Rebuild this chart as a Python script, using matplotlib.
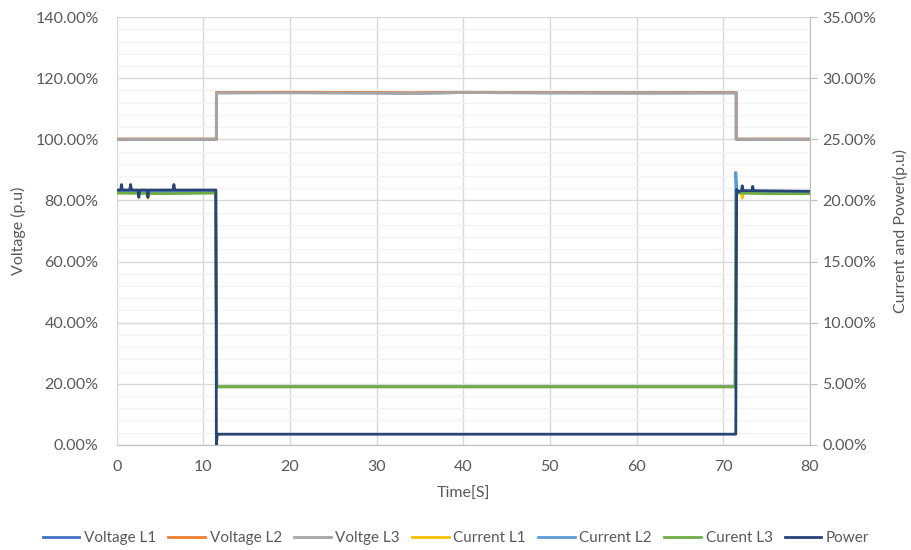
import matplotlib
matplotlib.use("Agg")
import matplotlib.pyplot as plt
from matplotlib.ticker import FuncFormatter, MultipleLocator

# ---- data (left axis: voltage in %, right axis: current/power in %) ----
t_volt = [0, 11.5, 11.5, 20, 30, 34, 40, 50, 60, 71.5, 71.5, 80]
volt_l1 = [100.0, 100.0, 115.2, 115.3, 115.2, 115.1, 115.3, 115.2, 115.2, 115.2, 100.0, 100.0]
volt_l2 = [100.1, 100.1, 115.3, 115.4, 115.3, 115.2, 115.4, 115.3, 115.2, 115.3, 100.1, 100.1]
volt_l3 = [100.0, 100.0, 115.2, 115.2, 115.1, 115.0, 115.3, 115.2, 115.1, 115.2, 100.0, 100.0]

t_cur = [0, 3.5, 3.6, 3.7, 11.4, 11.55, 20, 40, 60, 71.4, 71.55, 72.1, 72.2, 72.3, 80]
cur_l1 = [20.7, 20.7, 20.2, 20.7, 20.7, 4.76, 4.76, 4.76, 4.76, 4.76, 20.8, 20.7, 20.2, 20.7, 20.7]
t_cur2 = [0, 11.4, 11.55, 20, 40, 60, 71.4, 71.45, 71.55, 71.7, 80]
cur_l2 = [20.7, 20.7, 4.76, 4.76, 4.76, 4.76, 4.76, 22.3, 21.0, 20.7, 20.7]
t_cur3 = [0, 5, 11.4, 11.55, 20, 40, 60, 71.35, 71.5, 75, 80]
cur_l3 = [20.6, 20.55, 20.6, 4.76, 4.76, 4.76, 4.76, 4.76, 20.6, 20.55, 20.55]

t_pow = [0, 0.45, 0.55, 0.65, 1.5, 1.6, 1.7, 2.45, 2.55, 2.65, 3.5, 3.6, 3.7,
         6.5, 6.6, 6.7, 11.45, 11.5, 11.6, 20, 40, 60, 71.45, 71.55, 71.7,
         72.1, 72.2, 72.3, 73.3, 73.4, 73.5, 80]
power = [20.85, 20.85, 21.3, 20.85, 20.85, 21.3, 20.85, 20.85, 20.25, 20.85, 20.85, 20.25, 20.85,
         20.85, 21.3, 20.85, 20.85, 0.0, 0.88, 0.88, 0.88, 0.88, 0.88, 20.9, 20.7,
         20.8, 21.2, 20.8, 20.8, 21.15, 20.8, 20.75]

x_ticks = [0, 10, 20, 30, 40, 50, 60, 70, 80]

# ---- styling ----
plt.rcParams['font.family'] = ['Lato', 'DejaVu Sans']
txt = '#595959'
fig = plt.figure(figsize=(9.12, 5.5), dpi=100)
ax = fig.add_axes([0.128, 0.191, 0.760, 0.778])
ax2 = ax.twinx()

lw = 2.0
h = []
h += ax.plot(t_volt, volt_l1, color='#4472C4', lw=lw, label='Voltage L1')
h += ax.plot(t_volt, volt_l2, color='#ED7D31', lw=lw, label='Voltage L2')
h += ax.plot(t_volt, volt_l3, color='#A5A5A5', lw=lw, label='Voltge L3')
h += ax2.plot(t_cur, cur_l1, color='#FFC000', lw=lw, label='Current L1')
h += ax2.plot(t_cur2, cur_l2, color='#5B9BD5', lw=lw, label='Current L2')
h += ax2.plot(t_cur3, cur_l3, color='#70AD47', lw=lw, label='Curent L3')
h += ax2.plot(t_pow, power, color='#264478', lw=lw, label='Power')

ax.set_xlim(0, 80)
ax.set_ylim(0, 140)
ax2.set_ylim(0, 35)
ax.set_xticks(x_ticks)
ax.yaxis.set_major_locator(MultipleLocator(20))
ax.yaxis.set_minor_locator(MultipleLocator(4))
ax2.yaxis.set_major_locator(MultipleLocator(5))
ax.yaxis.set_major_formatter(FuncFormatter(lambda v, p: f"{v:.2f}%"))
ax2.yaxis.set_major_formatter(FuncFormatter(lambda v, p: f"{v:.2f}%"))

ax.grid(True, which='major', axis='both', color='#D9D9D9', lw=1.0)
ax.grid(True, which='minor', axis='y', color='#F2F2F2', lw=1.0)
ax.set_axisbelow(True)

for a in (ax, ax2):
    for s in ('top', 'left', 'right', 'bottom'):
        a.spines[s].set_visible(False)
ax2.spines['right'].set_visible(True)
ax2.spines['right'].set_color('#BFBFBF')
ax.spines['bottom'].set_visible(True)
ax.spines['bottom'].set_color('#BFBFBF')

ax.tick_params(axis='y', which='both', length=0, labelsize=11.5, labelcolor=txt, pad=13)
ax.tick_params(axis='x', length=0, labelsize=11.5, labelcolor=txt, pad=11)
ax2.tick_params(axis='y', length=5, color='#BFBFBF', labelsize=11.5, labelcolor=txt, pad=4)

ax.set_xlabel('Time[S]', fontsize=11.5, color=txt, labelpad=9)
ax.set_ylabel('Voltage (p.u)', fontsize=11.5, color=txt, labelpad=7)
ax2.set_ylabel('Current and Power(p.u)', fontsize=11.5, color=txt, labelpad=12)

fig.legend(handles=h, loc='center', bbox_to_anchor=(0.5, 0.022), ncol=7,
           frameon=False, fontsize=11, labelcolor=txt, handlelength=2.4,
           handletextpad=0.3, columnspacing=0.8)

fig.savefig('out.png', dpi=100)
